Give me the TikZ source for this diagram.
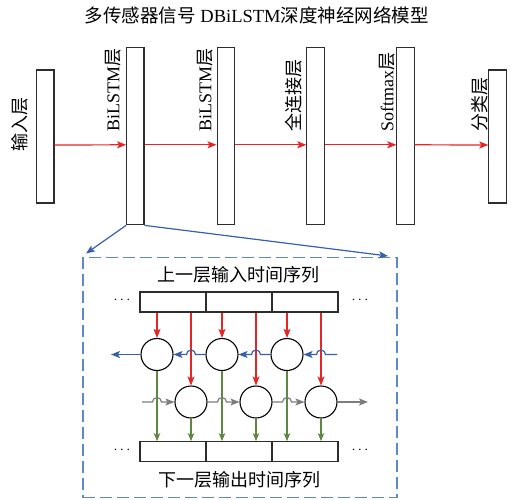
\documentclass[tikz,border=0pt]{standalone}
\usepackage{fontspec}
\setmainfont{Liberation Serif}
\newfontfamily\cjk{Noto Sans CJK SC}
\usetikzlibrary{arrows.meta,calc}
\definecolor{myred}{RGB}{228,38,38}
\definecolor{myblue}{RGB}{55,95,170}
\definecolor{dashblue}{RGB}{95,135,205}
\definecolor{mygreen}{RGB}{95,135,65}
\definecolor{mygray}{RGB}{125,125,125}
\definecolor{boxc}{RGB}{45,45,45}
\tikzset{
  layerbox/.style={draw=boxc, line width=1.1pt, inner sep=0pt, minimum width=17.3pt},
  layerlabel/.style={rotate=90, anchor=west, inner sep=0pt, font=\fontsize{18}{20}\selectfont},
  cell/.style={draw=boxc, line width=1.1pt, inner sep=0pt, minimum width=66pt, minimum height=20pt},
  unit/.style={circle, draw=black, line width=1.1pt, inner sep=0pt, minimum size=32pt},
  redarr/.style={draw=myred, line width=1.2pt, -{Stealth[length=9pt,width=7pt,inset=2pt]}},
  bluearr/.style={draw=myblue, line width=1.2pt, -{Stealth[length=9pt,width=7pt,inset=2pt]}},
  grayarr/.style={draw=mygray, line width=1.2pt, -{Stealth[length=9pt,width=7pt,inset=2pt]}},
  greenarr/.style={draw=mygreen, line width=1.2pt, -{Stealth[length=8pt,width=6.5pt,inset=2pt]}},
  seqtext/.style={font=\fontsize{18}{20}\selectfont\cjk, inner sep=0pt},
  dots/.style={inner sep=0pt, font=\fontsize{15}{16}\selectfont}
}
\begin{document}
\begin{tikzpicture}[x=1pt,y=1pt]
\useasboundingbox (0,0) rectangle (520,-499);
% title
\node[inner sep=0pt, font=\fontsize{18.5}{20}\selectfont] (title) at (256.7,-15) {{\cjk 多传感器信号} DBiLSTM{\cjk 深度神经网络模型}};
% top layers
\node[layerbox, minimum height=133pt] (in) at (45.3,-136.5) {};
\node[layerbox, minimum height=177pt] (b1) at (135.3,-136.3) {};
\node[layerbox, minimum height=177pt] (b2) at (225.7,-136.3) {};
\node[layerbox, minimum height=177pt] (fc) at (315.5,-136.3) {};
\node[layerbox, minimum height=177pt] (sm) at (405.5,-136.3) {};
\node[layerbox, minimum height=133pt] (cl) at (497.5,-136.5) {};
\node[layerlabel] (lin) at (20,-152) {\cjk 输入层};
\node[layerlabel] (lb1) at (113,-132) {BiLSTM{\cjk 层}};
\node[layerlabel] (lb2) at (205,-132) {BiLSTM{\cjk 层}};
\node[layerlabel] (lfc) at (294,-132) {\cjk 全连接层};
\node[layerlabel] (lsm) at (387,-132) {Softmax{\cjk 层}};
\node[layerlabel] (lcl) at (480,-132) {\cjk 分类层};
\foreach \a/\b in {in/b1,b1/b2,b2/fc,fc/sm,sm/cl}
  \draw[redarr] ([yshift=-8.5pt]\a.east) -- ([yshift=-8.5pt]\b.west);
% zoom box
\node[draw=dashblue, line width=1.6pt, dash pattern=on 12pt off 5pt, minimum width=314pt, minimum height=240pt, inner sep=0pt] (dbox) at (240,-377.5) {};
\coordinate (zl) at (86,-253.5);
\coordinate (zr) at (388,-256);
\draw[bluearr] (b1.south west) -- (zl);
\draw[bluearr] (b1.south east) -- (zr);
% texts
\node[seqtext] (tin) at (238,-275) {上一层输入时间序列};
\node[seqtext] (tout) at (239,-480) {下一层输出时间序列};
% sequence cells
\node[cell] (c1) at (173,-302) {};
\node[cell] (c2) at (239,-302) {};
\node[cell] (c3) at (305,-302) {};
\node[cell] (d1) at (173,-451.7) {};
\node[cell] (d2) at (239,-451.7) {};
\node[cell] (d3) at (305,-451.7) {};
\node[dots] (e1) at (122,-300) {$\cdots$};
\node[dots] (e2) at (360,-300) {$\cdots$};
\node[dots] (e3) at (122,-450) {$\cdots$};
\node[dots] (e4) at (360,-450) {$\cdots$};
% units
\node[unit] (u1) at (157,-354.5) {};
\node[unit] (u2) at (222,-354.5) {};
\node[unit] (u3) at (287,-354.5) {};
\node[unit] (l1) at (191,-402) {};
\node[unit] (l2) at (256,-402) {};
\node[unit] (l3) at (321,-402) {};
% red inputs
\foreach \i in {1,2,3} {
  \draw[redarr] (c\i.south -| u\i) -- (u\i.north);
  \draw[redarr] (c\i.south -| l\i) -- (l\i.north);
}
% green outputs
\foreach \i in {1,2,3} {
  \draw[greenarr] (u\i.south) -- (u\i |- d\i.north);
  \draw[greenarr] (l\i.south) -- (l\i |- d\i.north);
}
% backward (blue) chain with hops
\coordinate (bstart) at (337,-354.5);
\coordinate (bend) at (111,-354.5);
\draw[bluearr] (bstart) -- ($(l3 |- u3)+(4.5,0)$) arc[start angle=0,end angle=180,radius=4.5] -- (u3.east);
\draw[bluearr] (u3.west) -- ($(l2 |- u2)+(4.5,0)$) arc[start angle=0,end angle=180,radius=4.5] -- (u2.east);
\draw[bluearr] (u2.west) -- ($(l1 |- u1)+(4.5,0)$) arc[start angle=0,end angle=180,radius=4.5] -- (u1.east);
\draw[bluearr] (u1.west) -- (bend);
% forward (gray) chain with hops
\coordinate (gstart) at (142,-402);
\coordinate (gend) at (368,-402);
\draw[grayarr] (gstart) -- ($(u1 |- l1)+(-4.5,0)$) arc[start angle=180,end angle=0,radius=4.5] -- (l1.west);
\draw[grayarr] (l1.east) -- ($(u2 |- l2)+(-4.5,0)$) arc[start angle=180,end angle=0,radius=4.5] -- (l2.west);
\draw[grayarr] (l2.east) -- ($(u3 |- l3)+(-4.5,0)$) arc[start angle=180,end angle=0,radius=4.5] -- (l3.west);
\draw[grayarr] (l3.east) -- (gend);
\end{tikzpicture}
\end{document}
